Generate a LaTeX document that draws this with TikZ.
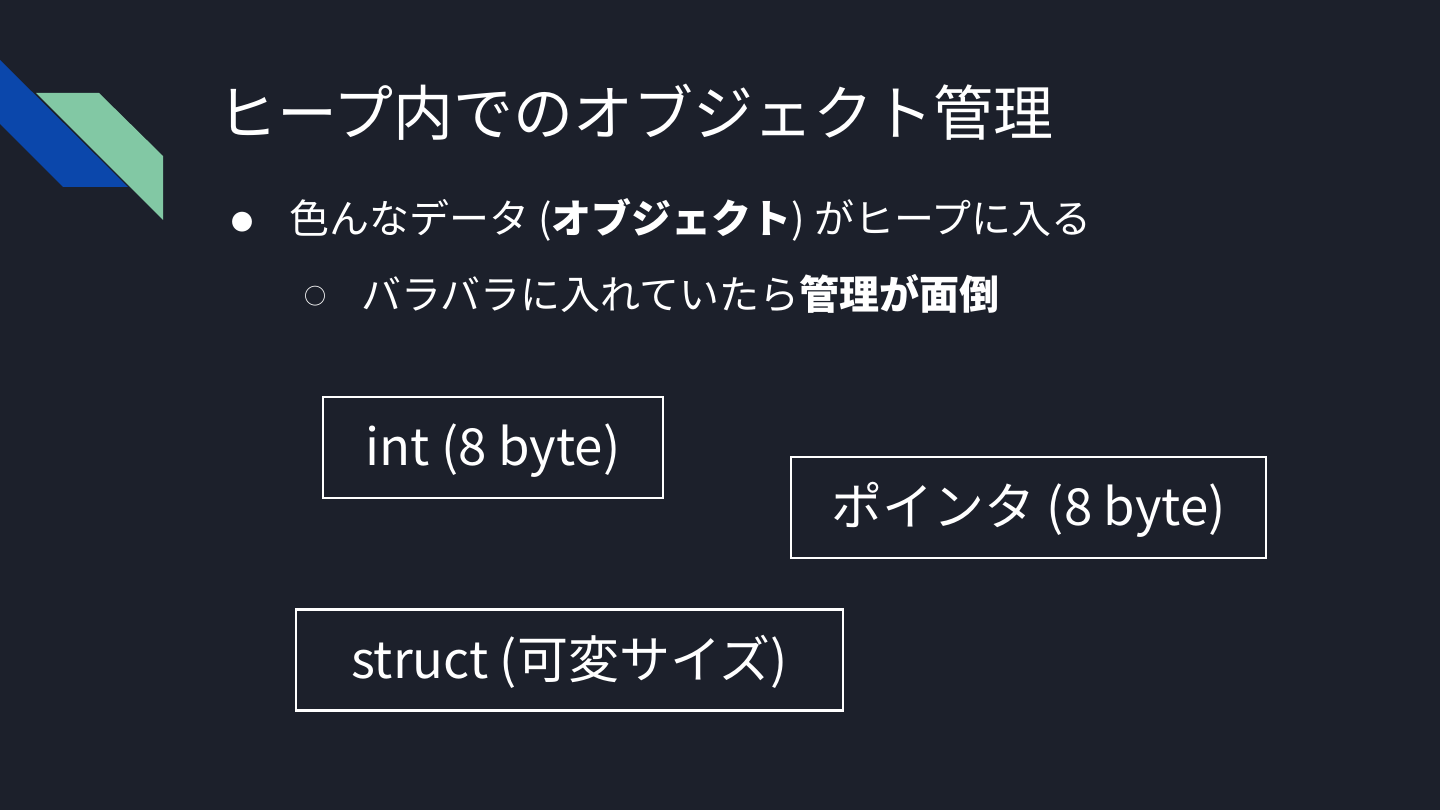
\documentclass[tikz,border=0pt]{standalone}
\usepackage{fontspec}
\setmainfont{Noto Sans CJK JP}
\usetikzlibrary{positioning}
\definecolor{slidebg}{HTML}{1C202B}
\definecolor{stripeblue}{HTML}{0B47AB}
\definecolor{stripegreen}{HTML}{82C8A4}
\newcommand{\boxlabel}[1]{\raisebox{-18pt}[0pt][0pt]{#1}}
\tikzset{
  heapbox/.style={draw=white, line width=2.5pt, minimum height=101pt, inner sep=0pt, text=white, font=\fontsize{51}{60}\selectfont},
  slidetext/.style={anchor=west, inner sep=0pt, text=white}
}

\begin{document}
\begin{tikzpicture}[x=1pt, y=-1pt]
% Background
    \fill[slidebg] (0,0) rectangle (1440,810);
% Stripes
    \fill[stripeblue] (0,60) -- (128,187) -- (63,187) -- (0,124) -- cycle;
    \fill[stripegreen] (36,93) -- (99,93) -- (163,156) -- (163,220) -- cycle;
% Title
    \node[slidetext, font=\fontsize{60}{72}\selectfont] (title) at (217,112) {ヒープ内でのオブジェクト管理};
% Bullets
    \node[slidetext, font=\fontsize{22}{26}\selectfont] (dot1) at (231,222) {●};
    \node[slidetext, font=\fontsize{40}{48}\selectfont] (item1) at (289,220) {色んなデータ (\textbf{オブジェクト}) がヒープに入る};
    \node[slidetext, font=\fontsize{22}{26}\selectfont] (dot2) at (304,296) {○};
    \node[slidetext, font=\fontsize{40}{48}\selectfont] (item2) at (361,294) {バラバラに入れていたら\textbf{管理が面倒}};
% Objects in the heap
    \node[heapbox, minimum width=340pt] (intbox) at (493,447.5) {\boxlabel{int (8 byte)}};
    \node[heapbox, minimum width=475pt] (ptrbox) at (1028.5,507.5) {\boxlabel{ポインタ (8 byte)}};
    \node[heapbox, minimum width=547pt] (structbox) at (569.5,660) {\boxlabel{struct (可変サイズ)}};
\end{tikzpicture}
\end{document}
